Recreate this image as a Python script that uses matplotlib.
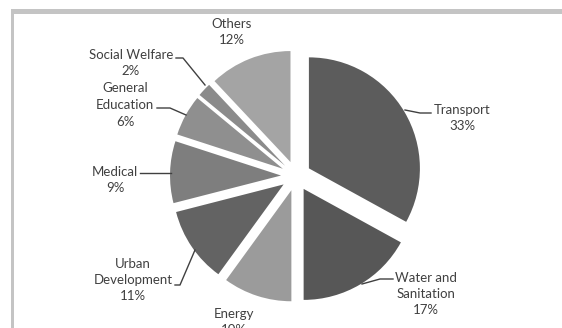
import matplotlib.pyplot as plt
import matplotlib.patches as mpatches

# sector shares (%)
sectors = ["Transport", "Water and\nSanitation", "Energy", "Urban\nDevelopment",
           "Medical", "General\nEducation", "Social Welfare", "Others"]
shares = [33, 17, 10, 11, 9, 6, 2, 12]
colors = ["#5c5c5c", "#575757", "#9b9b9b", "#636363",
          "#7e7e7e", "#8f8f8f", "#8b8b8b", "#a4a4a4"]

W, H = 562, 328
cx, cy, R = 296, 176, 111   # pie centre / radius in pixels


def p(x, y):
    # pixel (from top-left) -> data units of the pie axes
    return (x - cx) / R, (cy - y) / R


fig = plt.figure(figsize=(W / 100, H / 100), dpi=100)
ax = fig.add_axes([0, 0, 1, 1])

ax.pie(shares, colors=colors, startangle=90, counterclock=False,
       explode=[0.135] * len(shares), radius=1, center=(0, 0),
       wedgeprops=dict(linewidth=0))
ax.set_aspect("auto")
ax.set_xlim((0 - cx) / R, (W - cx) / R)
ax.set_ylim((cy - H) / R, cy / R)
ax.axis("off")

# grey chart-area border (cut off at right / bottom)
fig.patches.append(mpatches.Rectangle((11 / W, 9 / H * -1 + 1 - 5 / H), 1, 5 / H,
                                      transform=fig.transFigure, color="#c4c4c4", lw=0))
fig.patches.append(mpatches.Rectangle((11 / W, 0), 3 / W, 1 - 9 / H,
                                      transform=fig.transFigure, color="#c4c4c4", lw=0))

# label positions (pixel centres) and leader lines
label_pos = [(462, 118), (426, 294), (234, 322), (133, 280),
             (115, 180), (125, 105), (131, 63), (232, 32)]
leaders = [
    [(431, 113), (420, 113), (405, 110)],
    [(393, 279), (380, 279), (362, 284)],
    None,
    [(175, 285), (180, 285), (195, 250)],
    [(140, 173), (171, 173)],
    [(157, 108), (170, 108), (186, 115)],
    [(176, 58), (183, 58), (205, 85)],
    None,
]

for name, val, (x, y), pts in zip(sectors, shares, label_pos, leaders):
    ax.text(*p(x, y), f"{name}\n{val}%", ha="center", va="center",
            fontsize=9.5, family="Lato", color="#404040", linespacing=1.45)
    if pts:
        xs, ys = zip(*[p(a, b) for a, b in pts])
        ax.plot(xs, ys, color="#404040", lw=1)

fig.savefig("out.png", dpi=100)
